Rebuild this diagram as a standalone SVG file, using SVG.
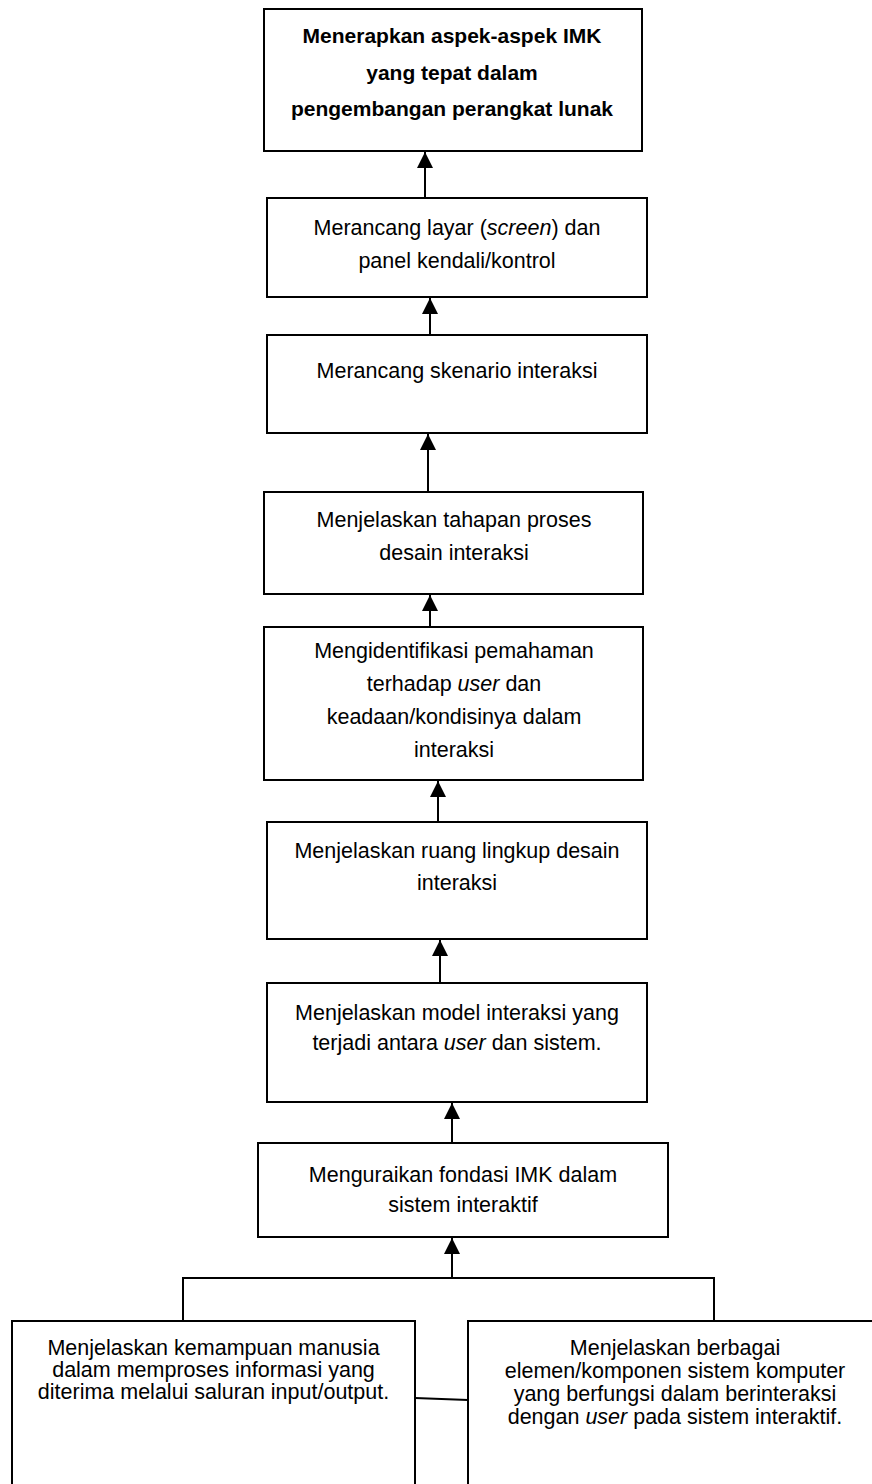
<svg xmlns="http://www.w3.org/2000/svg" width="872" height="1484" viewBox="0 0 872 1484">
<style>
.box{fill:#fff;stroke:#000;stroke-width:2}
.t{font-family:"Liberation Sans",Arial,sans-serif;font-size:21.5px;fill:#000;text-anchor:middle}
.b{font-weight:bold;font-size:21px}
.c{stroke:#000;stroke-width:2;fill:none}
.i{font-style:italic}
</style>
<defs>
<marker id="ah" markerUnits="userSpaceOnUse" markerWidth="16" markerHeight="16" refX="16" refY="8" orient="auto">
<path d="M0,0 L16,8 L0,16 z" fill="#000"/>
</marker>
</defs>
<rect width="872" height="1484" fill="#fff"/>
<g id="connectors">
<line class="c" x1="425" y1="198" x2="425" y2="152" marker-end="url(#ah)"/>
<line class="c" x1="430" y1="335" x2="430" y2="298" marker-end="url(#ah)"/>
<line class="c" x1="428" y1="492" x2="428" y2="434" marker-end="url(#ah)"/>
<line class="c" x1="430" y1="627" x2="430" y2="595" marker-end="url(#ah)"/>
<line class="c" x1="438" y1="822" x2="438" y2="781" marker-end="url(#ah)"/>
<line class="c" x1="440" y1="983" x2="440" y2="940" marker-end="url(#ah)"/>
<line class="c" x1="452" y1="1143" x2="452" y2="1103" marker-end="url(#ah)"/>
<line class="c" x1="452" y1="1278" x2="452" y2="1238" marker-end="url(#ah)"/>
<polyline class="c" points="183,1321 183,1278 714,1278 714,1321"/>
<line class="c" x1="415" y1="1398" x2="468" y2="1400"/>
</g>
<g id="n1">
<rect class="box" x="264" y="9" width="378" height="142"/>
<text class="t b" x="452" y="43">Menerapkan aspek-aspek IMK</text>
<text class="t b" x="452" y="80">yang tepat dalam</text>
<text class="t b" x="452" y="116">pengembangan perangkat lunak</text>
</g>
<g id="n2">
<rect class="box" x="267" y="198" width="380" height="99"/>
<text class="t" x="457" y="235">Merancang layar (<tspan class="i">screen</tspan>) dan</text>
<text class="t" x="457" y="268">panel kendali/kontrol</text>
</g>
<g id="n3">
<rect class="box" x="267" y="335" width="380" height="98"/>
<text class="t" x="457" y="378">Merancang skenario interaksi</text>
</g>
<g id="n4">
<rect class="box" x="264" y="492" width="379" height="102"/>
<text class="t" x="454" y="527">Menjelaskan tahapan proses</text>
<text class="t" x="454" y="560">desain interaksi</text>
</g>
<g id="n5">
<rect class="box" x="264" y="627" width="379" height="153"/>
<text class="t" x="454" y="658">Mengidentifikasi pemahaman</text>
<text class="t" x="454" y="691">terhadap <tspan class="i">user</tspan> dan</text>
<text class="t" x="454" y="724">keadaan/kondisinya dalam</text>
<text class="t" x="454" y="757">interaksi</text>
</g>
<g id="n6">
<rect class="box" x="267" y="822" width="380" height="117"/>
<text class="t" x="457" y="858">Menjelaskan ruang lingkup desain</text>
<text class="t" x="457" y="890">interaksi</text>
</g>
<g id="n7">
<rect class="box" x="267" y="983" width="380" height="119"/>
<text class="t" x="457" y="1020">Menjelaskan model interaksi yang</text>
<text class="t" x="457" y="1050">terjadi antara <tspan class="i">user</tspan> dan sistem.</text>
</g>
<g id="n8">
<rect class="box" x="258" y="1143" width="410" height="94"/>
<text class="t" x="463" y="1182">Menguraikan fondasi IMK dalam</text>
<text class="t" x="463" y="1212">sistem interaktif</text>
</g>
<g id="n9">
<rect class="box" x="12" y="1321" width="403" height="200"/>
<text class="t" x="213.5" y="1355">Menjelaskan kemampuan manusia</text>
<text class="t" x="213.5" y="1377">dalam memproses informasi yang</text>
<text class="t" x="213.5" y="1399">diterima melalui saluran input/output.</text>
</g>
<g id="n10">
<rect class="box" x="468" y="1321" width="414" height="200"/>
<text class="t" x="675" y="1355">Menjelaskan berbagai</text>
<text class="t" x="675" y="1378">elemen/komponen sistem komputer</text>
<text class="t" x="675" y="1401">yang berfungsi dalam berinteraksi</text>
<text class="t" x="675" y="1424">dengan <tspan class="i">user</tspan> pada sistem interaktif.</text>
</g>
</svg>
